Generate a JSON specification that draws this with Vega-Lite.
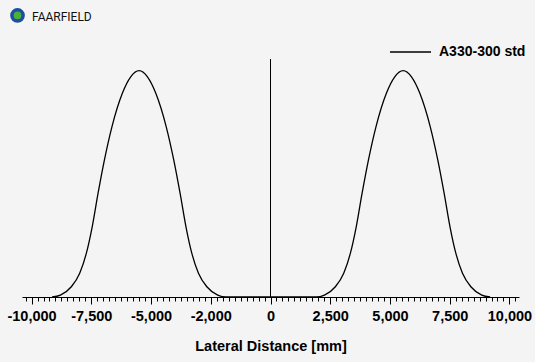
{
  "$schema": "https://vega.github.io/schema/vega-lite/v6.json",
  "autosize": {"type": "none"},
  "width": 497,
  "height": 238,
  "padding": {"left": 22, "top": 59, "right": 16, "bottom": 65},
  "background": "#f4f4f4",
  "title": {
    "text": "FAARFIELD",
    "anchor": "start",
    "frame": "group",
    "orient": "top",
    "dx": 10,
    "offset": -30,
    "baseline": "alphabetic",
    "font": "Roboto, 'DejaVu Sans', sans-serif",
    "fontSize": 12,
    "fontWeight": "normal",
    "color": "#111111"
  },
  "config": {"view": {"stroke": null}, "font": "Liberation Sans"},
  "data": {
    "values": [
      {"x": -9140, "y": 0, "series": "A330-300 std"},
      {"x": -8792, "y": 0.008, "series": "A330-300 std"},
      {"x": -8336, "y": 0.043, "series": "A330-300 std"},
      {"x": -7985, "y": 0.1, "series": "A330-300 std"},
      {"x": -7706, "y": 0.184, "series": "A330-300 std"},
      {"x": -7462, "y": 0.295, "series": "A330-300 std"},
      {"x": -7216, "y": 0.436, "series": "A330-300 std"},
      {"x": -6950, "y": 0.576, "series": "A330-300 std"},
      {"x": -6634, "y": 0.716, "series": "A330-300 std"},
      {"x": -6200, "y": 0.856, "series": "A330-300 std"},
      {"x": -5850, "y": 0.925, "series": "A330-300 std"},
      {"x": -5500, "y": 0.951, "series": "A330-300 std"},
      {"x": -5150, "y": 0.925, "series": "A330-300 std"},
      {"x": -4800, "y": 0.856, "series": "A330-300 std"},
      {"x": -4366, "y": 0.716, "series": "A330-300 std"},
      {"x": -4050, "y": 0.576, "series": "A330-300 std"},
      {"x": -3784, "y": 0.436, "series": "A330-300 std"},
      {"x": -3538, "y": 0.295, "series": "A330-300 std"},
      {"x": -3294, "y": 0.184, "series": "A330-300 std"},
      {"x": -3015, "y": 0.1, "series": "A330-300 std"},
      {"x": -2664, "y": 0.043, "series": "A330-300 std"},
      {"x": -2208, "y": 0.008, "series": "A330-300 std"},
      {"x": -1860, "y": 0, "series": "A330-300 std"},
      {"x": 1910, "y": 0, "series": "A330-300 std"},
      {"x": 2258, "y": 0.008, "series": "A330-300 std"},
      {"x": 2714, "y": 0.043, "series": "A330-300 std"},
      {"x": 3065, "y": 0.1, "series": "A330-300 std"},
      {"x": 3344, "y": 0.184, "series": "A330-300 std"},
      {"x": 3588, "y": 0.295, "series": "A330-300 std"},
      {"x": 3834, "y": 0.436, "series": "A330-300 std"},
      {"x": 4100, "y": 0.576, "series": "A330-300 std"},
      {"x": 4416, "y": 0.716, "series": "A330-300 std"},
      {"x": 4850, "y": 0.856, "series": "A330-300 std"},
      {"x": 5200, "y": 0.925, "series": "A330-300 std"},
      {"x": 5550, "y": 0.951, "series": "A330-300 std"},
      {"x": 5900, "y": 0.925, "series": "A330-300 std"},
      {"x": 6250, "y": 0.856, "series": "A330-300 std"},
      {"x": 6684, "y": 0.716, "series": "A330-300 std"},
      {"x": 7000, "y": 0.576, "series": "A330-300 std"},
      {"x": 7266, "y": 0.436, "series": "A330-300 std"},
      {"x": 7512, "y": 0.295, "series": "A330-300 std"},
      {"x": 7756, "y": 0.184, "series": "A330-300 std"},
      {"x": 8035, "y": 0.1, "series": "A330-300 std"},
      {"x": 8386, "y": 0.043, "series": "A330-300 std"},
      {"x": 8842, "y": 0.008, "series": "A330-300 std"},
      {"x": 9190, "y": 0, "series": "A330-300 std"}
    ]
  },
  "layer": [
    {
      "mark": {"type": "line", "interpolate": "monotone", "strokeWidth": 1.3},
      "encoding": {
        "x": {
          "field": "x",
          "type": "quantitative",
          "scale": {"domain": [-10400, 10400], "nice": false, "zero": false},
          "axis": {
            "orient": "bottom",
            "title": "Lateral Distance [mm]",
            "titleFont": "Liberation Sans",
            "titleFontSize": 14.5,
            "titleFontWeight": "bold",
            "titleColor": "#000000",
            "titlePadding": 17,
            "values": [-10000, -7500, -5000, -2500, 0, 2500, 5000, 7500, 10000],
            "labelExpr": "datum.value === -2500 ? '-2,000' : replace(format(datum.value, ','), '\u2212', '-')",
            "labelFont": "Liberation Sans",
            "labelFontSize": 14.5,
            "labelFontWeight": "bold",
            "labelColor": "#000000",
            "labelPadding": 5,
            "labelOverlap": false,
            "labelFlush": false,
            "tickSize": 7,
            "tickColor": "#000000",
            "tickWidth": 1,
            "domainColor": "#000000",
            "domainWidth": 1,
            "grid": false
          }
        },
        "y": {
          "field": "y",
          "type": "quantitative",
          "scale": {"domain": [0, 1], "nice": false},
          "axis": null
        },
        "color": {
          "field": "series",
          "type": "nominal",
          "scale": {"range": ["#000000"]},
          "legend": {
            "orient": "none",
            "legendX": 367,
            "legendY": -28.5,
            "title": null,
            "symbolType": "stroke",
            "symbolSize": 1681,
            "symbolStrokeWidth": 1.4,
            "symbolStrokeColor": "#000000",
            "symbolOpacity": 1,
            "labelFont": "Liberation Sans",
            "labelFontSize": 14,
            "labelFontWeight": "bold",
            "labelColor": "#000000",
            "labelOffset": 7,
            "padding": 0
          }
        }
      }
    },
    {
      "data": {"values": [{"x": 0}]},
      "mark": {"type": "rule", "color": "#000000", "strokeWidth": 1},
      "encoding": {
        "x": {
          "field": "x",
          "type": "quantitative",
          "axis": {
            "orient": "bottom",
            "title": null,
            "values": [-10250, -10000, -9750, -9500, -9250, -9000, -8750, -8500, -8250, -8000, -7750, -7500, -7250, -7000, -6750, -6500, -6250, -6000, -5750, -5500, -5250, -5000, -4750, -4500, -4250, -4000, -3750, -3500, -3250, -3000, -2750, -2500, -2250, -2000, -1750, -1500, -1250, -1000, -750, -500, -250, 0, 250, 500, 750, 1000, 1250, 1500, 1750, 2000, 2250, 2500, 2750, 3000, 3250, 3500, 3750, 4000, 4250, 4500, 4750, 5000, 5250, 5500, 5750, 6000, 6250, 6500, 6750, 7000, 7250, 7500, 7750, 8000, 8250, 8500, 8750, 9000, 9250, 9500, 9750, 10000, 10250],
            "labels": false,
            "domain": false,
            "grid": false,
            "tickSize": 4,
            "tickColor": "#000000",
            "tickWidth": 1
          }
        }
      }
    },
    {
      "data": {"values": [{}]},
      "mark": {"type": "point", "shape": "circle", "filled": true, "fill": "#4caf3a", "stroke": "#1c4f9c", "strokeWidth": 3.5, "size": 125, "opacity": 1},
      "encoding": {
        "x": {"datum": -10588, "axis": null},
        "y": {"datum": 1.183, "axis": null}
      }
    }
  ],
  "resolve": {"axis": {"x": "independent"}}
}
